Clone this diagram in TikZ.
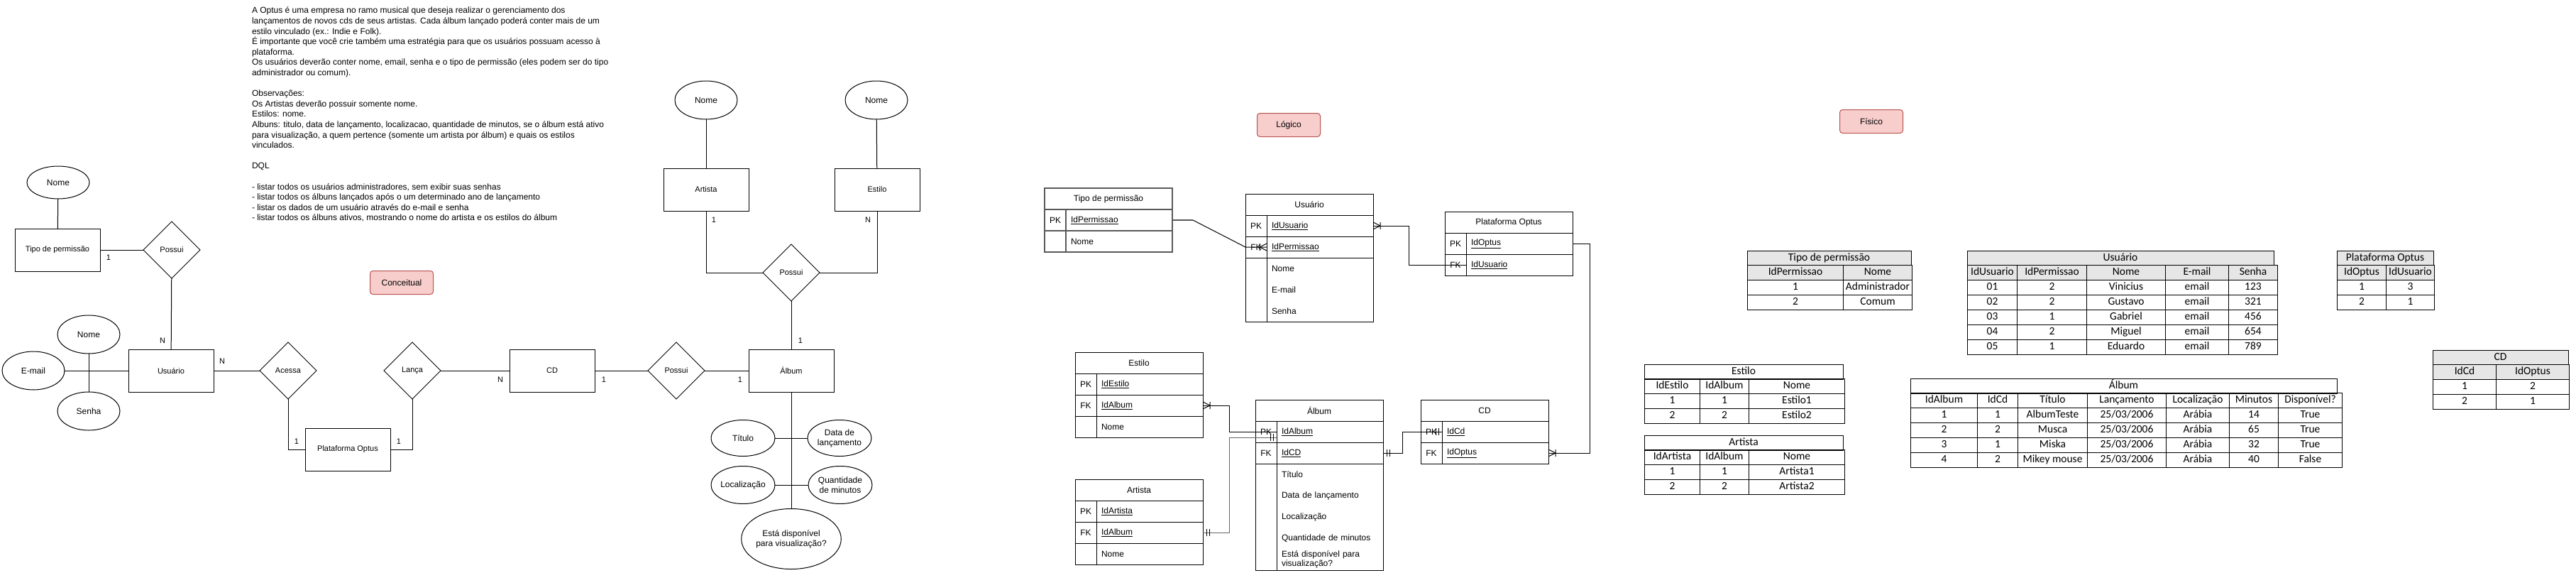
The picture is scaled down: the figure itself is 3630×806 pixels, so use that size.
\documentclass[tikz,border=0pt]{standalone}
\usepackage{fontspec}
\setmainfont{Liberation Sans}
\newfontfamily\calib{Carlito}
\usetikzlibrary{positioning}
\usetikzlibrary{shapes.geometric}
\usetikzlibrary{matrix}
\usetikzlibrary{calc}

\definecolor{tagfill}{HTML}{F8CECC}
\definecolor{tagline}{HTML}{B85450}
\definecolor{hdgray}{HTML}{E7E6E6}

\tikzset{
  ent/.style={draw, rectangle, minimum width=120pt, minimum height=60pt, font=\fontsize{11}{13}\selectfont},
  attr/.style={draw, ellipse, minimum width=88pt, minimum height=54pt, inner sep=0pt, align=center, font=\fontsize{12}{14}\selectfont},
  rel/.style={draw, diamond, minimum width=80pt, minimum height=80pt, inner sep=0pt, font=\fontsize{11}{13}\selectfont},
  card/.style={inner sep=0pt, font=\fontsize{11}{13}\selectfont},
  tag/.style={draw=tagline, fill=tagfill, rounded corners=4pt, minimum width=89pt, minimum height=33pt, font=\fontsize{12}{14}\selectfont},
  erhead/.style={draw, anchor=north west, minimum width=180pt, minimum height=30pt, inner sep=0pt, font=\fontsize{12}{14}\selectfont},
  erkey/.style={anchor=north west, minimum width=30pt, minimum height=30pt, inner sep=0pt, font=\fontsize{12}{14}\selectfont},
  errow/.style={text width=136pt, inner xsep=7pt, inner ysep=0pt, minimum height=30pt, align=left, font=\fontsize{12}{13}\selectfont},
  ptab/.style={matrix of nodes, inner sep=0pt, column sep=-1pt, row sep=-1pt, matrix anchor=north west,
    nodes={draw, font=\calib\fontsize{15.5}{17}\selectfont, minimum height=21pt, inner xsep=1pt, inner ysep=0pt, text height=11pt, text depth=3.5pt}},
  pgray/.style={row 1/.style={nodes={fill=hdgray}}},
  ptitle/.style={draw, anchor=north west, minimum height=21pt, inner sep=0pt, text height=11pt, text depth=3.5pt, font=\calib\fontsize{15.5}{17}\selectfont},
  onemany/.pic={\draw (-10pt,0pt) -- (0pt,5pt) (-10pt,0pt) -- (0pt,-5pt) (-10pt,5pt) -- (-10pt,-5pt);},
  mandone/.pic={\draw (-5pt,5pt) -- (-5pt,-5pt) (-9pt,5pt) -- (-9pt,-5pt);}
}

\begin{document}
\begin{tikzpicture}[x=1pt, y=-1pt, line width=1pt, outer sep=0pt]
  \useasboundingbox (0,0) rectangle (3630,806);

  % enunciado
  \node[anchor=north west, inner sep=0pt, align=left, font=\fontsize{12}{14.6}\selectfont] (desc) at (355,10) {A Optus é uma empresa no ramo musical que deseja realizar o gerenciamento dos\\
lançamentos de novos cds de seus artistas. Cada álbum lançado poderá conter mais de um\\
estilo vinculado (ex.: Indie e Folk).\\
É importante que você crie também uma estratégia para que os usuários possuam acesso à\\
plataforma.\\
Os usuários deverão conter nome, email, senha e o tipo de permissão (eles podem ser do tipo\\
administrador ou comum).\\
~\\
Observações:\\
Os Artistas deverão possuir somente nome.\\
Estilos: nome.\\
Albuns: titulo, data de lançamento, localizacao, quantidade de minutos, se o álbum está ativo\\
para visualização, a quem pertence (somente um artista por álbum) e quais os estilos\\
vinculados.\\
~\\
DQL\\
~\\
- listar todos os usuários administradores, sem exibir suas senhas\\
- listar todos os álbuns lançados após o um determinado ano de lançamento\\
- listar os dados de um usuário através do e-mail e senha\\
- listar todos os álbuns ativos, mostrando o nome do artista e os estilos do álbum};

  % conceitual
  \node[tag] (tagC) at (566,398) {Conceitual};
  \node[attr, minimum height=46pt] (cNomeTp) at (82,257) {Nome};
  \node[ent] (cTipo) at (81,352) {Tipo de permissão};
  \node[rel] (cPossuiTp) at (242,352) {Possui};
  \node[ent] (cUsuario) at (241,522) {Usuário};
  \node[attr] (cNomeUs) at (125,471) {Nome};
  \node[attr] (cEmail) at (47,522) {E-mail};
  \node[attr] (cSenha) at (125,579) {Senha};
  \node[rel] (cAcessa) at (406,522) {Acessa};
  \node[ent] (cPlat) at (490,633) {Plataforma Optus};
  \node[rel] (cLanca) at (581,522) {Lança};
  \node[ent] (cCd) at (778,522) {CD};
  \node[rel] (cPossuiCd) at (953,522) {Possui};
  \node[ent] (cAlbum) at (1115,522) {Álbum};
  \node[rel] (cPossuiAl) at (1115,384) {Possui};
  \node[ent] (cArtista) at (995,267) {Artista};
  \node[ent] (cEstilo) at (1236,267) {Estilo};
  \node[attr] (cNomeAr) at (995,141) {Nome};
  \node[attr] (cNomeEs) at (1235,141) {Nome};
  \node[attr, minimum width=90pt, minimum height=51pt] (cTitulo) at (1047,617) {Título};
  \node[attr, minimum width=90pt, minimum height=51pt] (cData) at (1183,617) {Data de\\lançamento};
  \node[attr, minimum width=90pt, minimum height=53pt] (cLocal) at (1047,683) {Localização};
  \node[attr, minimum width=90pt, minimum height=53pt] (cMin) at (1184,683) {Quantidade\\de minutos};
  \node[attr, minimum width=124pt, minimum height=85pt] (cDisp) at (1115,759) {Está disponível\\para visualização?};

  \draw (cNomeTp) -- (cTipo);
  \draw (cTipo) -- (cPossuiTp);
  \draw (cPossuiTp) -- (cUsuario);
  \draw (cEmail) -- (cUsuario);
  \draw (cNomeUs) -- (cSenha);
  \draw (cUsuario) -- (cAcessa);
  \draw (cAcessa) |- (cPlat);
  \draw (cLanca) |- (cPlat);
  \draw (cLanca) -- (cCd);
  \draw (cCd) -- (cPossuiCd);
  \draw (cPossuiCd) -- (cAlbum);
  \draw (cPossuiAl) -- (cAlbum);
  \draw (cArtista) |- (cPossuiAl);
  \draw (cEstilo) |- (cPossuiAl);
  \draw (cNomeAr) -- (cArtista);
  \draw (cNomeEs) -- (cEstilo);
  \draw (cAlbum) -- (cDisp);
  \draw (cTitulo) -- (cData);
  \draw (cLocal) -- (cMin);

  \node[card] (kTipo) at (153,363) {1};
  \node[card] (kUsuTp) at (229,480) {N};
  \node[card] (kUsuAc) at (313,509) {N};
  \node[card] (kPlatAc) at (418,622) {1};
  \node[card] (kPlatLa) at (562,622) {1};
  \node[card] (kCdLa) at (705,535) {N};
  \node[card] (kCdPo) at (851,535) {1};
  \node[card] (kAlbPo) at (1043,535) {1};
  \node[card] (kAlbAl) at (1128,480) {1};
  \node[card] (kArt) at (1006,310) {1};
  \node[card] (kEst) at (1223,310) {N};

  % logico
  \node[tag] (tagL) at (1816,176) {Lógico};

  \node[erhead, draw=black!65, line width=1.4pt] (lTp) at (1472,265) {Tipo de permissão};
  \node[erkey, draw=black!65, line width=1.4pt] (lTpK1) at (lTp.south west) {PK};
  \node[errow, draw=black!65, line width=1.4pt, right=0pt of lTpK1] (lTpPK) {\underline{IdPermissao}};
  \node[erkey, draw=black!65, line width=1.4pt, below=0pt of lTpK1] (lTpK2) {};
  \node[errow, draw=black!65, line width=1.4pt, right=0pt of lTpK2] (lTpNm) {Nome};

  \node[erhead] (lUs) at (1755,273) {Usuário};
  \node[erkey, draw] (lUsK1) at (lUs.south west) {PK};
  \node[errow, draw, right=0pt of lUsK1] (lUsPK) {\underline{IdUsuario}};
  \node[erkey, draw, below=0pt of lUsK1] (lUsK2) {FK};
  \node[errow, draw, right=0pt of lUsK2] (lUsFK) {\underline{IdPermissao}};
  \node[erkey, below=0pt of lUsK2] (lUsK3) {};
  \node[errow, right=0pt of lUsK3] (lUsNm) {Nome};
  \node[erkey, below=0pt of lUsK3] (lUsK4) {};
  \node[errow, right=0pt of lUsK4] (lUsEm) {E-mail};
  \node[erkey, below=0pt of lUsK4] (lUsK5) {};
  \node[errow, right=0pt of lUsK5] (lUsSe) {Senha};
  \draw (lUsK3.north east) -- (lUsK5.south east);
  \draw (lUs.north west) rectangle (lUsSe.south east);

  \node[erhead] (lPl) at (2036,298) {Plataforma Optus};
  \node[erkey, draw] (lPlK1) at (lPl.south west) {PK};
  \node[errow, draw, right=0pt of lPlK1] (lPlPK) {\underline{IdOptus}};
  \node[erkey, draw, below=0pt of lPlK1] (lPlK2) {FK};
  \node[errow, draw, right=0pt of lPlK2] (lPlFK) {\underline{IdUsuario}};

  \node[erhead] (lEs) at (1515,496) {Estilo};
  \node[erkey, draw] (lEsK1) at (lEs.south west) {PK};
  \node[errow, draw, right=0pt of lEsK1] (lEsPK) {\underline{IdEstilo}};
  \node[erkey, draw, below=0pt of lEsK1] (lEsK2) {FK};
  \node[errow, draw, right=0pt of lEsK2] (lEsFK) {\underline{IdAlbum}};
  \node[erkey, draw, below=0pt of lEsK2] (lEsK3) {};
  \node[errow, draw, right=0pt of lEsK3] (lEsNm) {Nome};

  \node[erhead] (lAr) at (1515,675) {Artista};
  \node[erkey, draw] (lArK1) at (lAr.south west) {PK};
  \node[errow, draw, right=0pt of lArK1] (lArPK) {\underline{IdArtista}};
  \node[erkey, draw, below=0pt of lArK1] (lArK2) {FK};
  \node[errow, draw, right=0pt of lArK2] (lArFK) {\underline{IdAlbum}};
  \node[erkey, draw, below=0pt of lArK2] (lArK3) {};
  \node[errow, draw, right=0pt of lArK3] (lArNm) {Nome};

  \node[erhead] (lAl) at (1769,563) {Álbum};
  \node[erkey, draw] (lAlK1) at (lAl.south west) {PK};
  \node[errow, draw, right=0pt of lAlK1] (lAlPK) {\underline{IdAlbum}};
  \node[erkey, draw, below=0pt of lAlK1] (lAlK2) {FK};
  \node[errow, draw, right=0pt of lAlK2] (lAlFK) {\underline{IdCD}};
  \node[erkey, below=0pt of lAlK2] (lAlK3) {};
  \node[errow, right=0pt of lAlK3] (lAlTi) {Título};
  \node[erkey, below=0pt of lAlK3] (lAlK4) {};
  \node[errow, right=0pt of lAlK4] (lAlDa) {Data de lançamento};
  \node[erkey, below=0pt of lAlK4] (lAlK5) {};
  \node[errow, right=0pt of lAlK5] (lAlLo) {Localização};
  \node[erkey, below=0pt of lAlK5] (lAlK6) {};
  \node[errow, right=0pt of lAlK6] (lAlMi) {Quantidade de minutos};
  \node[erkey, below=0pt of lAlK6] (lAlK7) {};
  \node[errow, right=0pt of lAlK7] (lAlDi) {Está disponível para\\visualização?};
  \draw (lAlK3.north east) -- (lAlK7.south east);
  \draw (lAl.north west) rectangle (lAlDi.south east);

  \node[erhead] (lCd) at (2002,563) {CD};
  \node[erkey, draw] (lCdK1) at (lCd.south west) {PK};
  \node[errow, draw, right=0pt of lCdK1] (lCdPK) {\underline{IdCd}};
  \node[erkey, draw, below=0pt of lCdK1] (lCdK2) {FK};
  \node[errow, draw, right=0pt of lCdK2] (lCdFK) {\underline{IdOptus}};

  \draw[black!65, line width=1.4pt] (lTpPK.east) -- ++(29,0) coordinate (lTpOut);
  \draw (lTpOut) -- ([xshift=-30pt]lUsFK.west) -- (lUsFK.west);
  \pic at (lUsFK.west) {onemany};
  \draw (lUsPK.east) -- ++(50,0) |- (lPlFK.west);
  \pic[rotate=180] at (lUsPK.east) {onemany};
  \draw (lPlPK.east) -- ++(24,0) |- (lCdFK.east);
  \pic[rotate=180] at (lCdFK.east) {onemany};
  \draw (lEsFK.east) -- ++(37,0) |- (lAlPK.west);
  \pic[rotate=180] at (lEsFK.east) {onemany};
  \coordinate (lAlIn) at ([yshift=-8pt]lAlPK.west);
  \draw[black!60] (lArFK.east) -- ++(37,0) |- (lAlIn);
  \pic[rotate=180] at (lArFK.east) {mandone};
  \pic at (lAlIn) {mandone};
  \draw (lAlFK.east) -- ++(27,0) |- (lCdPK.west);
  \pic[rotate=180] at (lAlFK.east) {mandone};
  \pic at (lCdPK.west) {mandone};

  % fisico
  \node[tag] (tagF) at (2637,171) {Físico};

  \node[ptitle, fill=hdgray, minimum width=231pt] (fTpT) at (2462,353) {Tipo de permissão};
  \matrix (fTp) [ptab, pgray, column 1/.style={nodes={minimum width=135pt}}, column 2/.style={nodes={minimum width=97pt}}] at (2462,373) {
    IdPermissao & Nome \\
    1 & Administrador \\
    2 & Comum \\
  };

  \node[ptitle, fill=hdgray, minimum width=432pt] (fUsT) at (2772,353) {Usuário};
  \matrix (fUs) [ptab, pgray, column 1/.style={nodes={minimum width=70pt}}, column 2/.style={nodes={minimum width=98pt}}, column 3/.style={nodes={minimum width=111pt}}, column 4/.style={nodes={minimum width=89pt}}, column 5/.style={nodes={minimum width=69pt}}] at (2772,373) {
    IdUsuario & IdPermissao & Nome & E-mail & Senha \\
    01 & 2 & Vinicius & email & 123 \\
    02 & 2 & Gustavo & email & 321 \\
    03 & 1 & Gabriel & email & 456 \\
    04 & 2 & Miguel & email & 654 \\
    05 & 1 & Eduardo & email & 789 \\
  };

  \node[ptitle, fill=hdgray, minimum width=136pt] (fPlT) at (3293,353) {Plataforma Optus};
  \matrix (fPl) [ptab, pgray, column 1/.style={nodes={minimum width=69pt}}, column 2/.style={nodes={minimum width=68pt}}] at (3293,373) {
    IdOptus & IdUsuario \\
    1 & 3 \\
    2 & 1 \\
  };

  \node[ptitle, fill=hdgray, minimum width=191pt] (fCdT) at (3428,493) {CD};
  \matrix (fCd) [ptab, pgray, column 1/.style={nodes={minimum width=89pt}}, column 2/.style={nodes={minimum width=103pt}}] at (3428,513) {
    IdCd & IdOptus \\
    1 & 2 \\
    2 & 1 \\
  };

  \node[ptitle, minimum width=280pt] (fEsT) at (2317,513) {Estilo};
  \matrix (fEs) [ptab, column 1/.style={nodes={minimum width=78pt}}, column 2/.style={nodes={minimum width=69pt}}, column 3/.style={nodes={minimum width=135pt}}] at (2317,533) {
    IdEstilo & IdAlbum & Nome \\
    1 & 1 & Estilo1 \\
    2 & 2 & Estilo2 \\
  };

  \node[ptitle, minimum width=280pt] (fArT) at (2317,613) {Artista};
  \matrix (fAr) [ptab, column 1/.style={nodes={minimum width=78pt}}, column 2/.style={nodes={minimum width=69pt}}, column 3/.style={nodes={minimum width=135pt}}] at (2317,633) {
    IdArtista & IdAlbum & Nome \\
    1 & 1 & Artista1 \\
    2 & 2 & Artista2 \\
  };

  \node[ptitle, minimum width=601pt] (fAlT) at (2692,533) {Álbum};
  \matrix (fAl) [ptab, column 1/.style={nodes={minimum width=94pt}}, column 2/.style={nodes={minimum width=57pt}}, column 3/.style={nodes={minimum width=98pt}}, column 4/.style={nodes={minimum width=111pt}}, column 5/.style={nodes={minimum width=89pt}}, column 6/.style={nodes={minimum width=69pt}}, column 7/.style={nodes={minimum width=90pt}}] at (2692,553) {
    IdAlbum & IdCd & Título & Lançamento & Localização & Minutos & Disponível? \\
    1 & 1 & AlbumTeste & 25/03/2006 & Arábia & 14 & True \\
    2 & 2 & Musca & 25/03/2006 & Arábia & 65 & True \\
    3 & 1 & Miska & 25/03/2006 & Arábia & 32 & True \\
    4 & 2 & Mikey mouse & 25/03/2006 & Arábia & 40 & False \\
  };
\end{tikzpicture}
\end{document}
